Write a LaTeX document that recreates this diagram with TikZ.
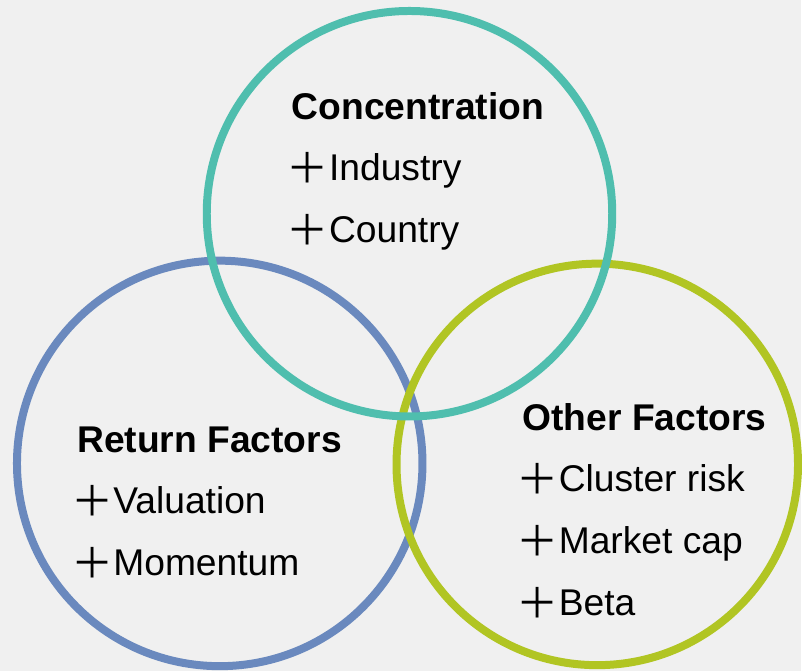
\documentclass[tikz,border=0pt]{standalone}
\usepackage{fontspec}
\setmainfont{Liberation Sans}
\newfontfamily\cjk{Noto Sans CJK SC}
\usepackage{tikz}
\definecolor{fond}{HTML}{F0F0F0}
\definecolor{bleu}{HTML}{6A89BE}
\definecolor{turquoise}{HTML}{4FBEAE}
\definecolor{vert}{HTML}{B1C523}
\newcommand{\puce}{\raisebox{-2pt}{\cjk\fontsize{30}{30}\selectfont ＋}}

\begin{document}
\begin{tikzpicture}[
    rond/.style={circle,minimum size=10.15cm,line width=0.2cm,inner sep=0},
    titre/.style={anchor=base west,inner sep=0,font=\fontsize{26.5}{30}\selectfont\bfseries},
    ligne/.style={anchor=base west,inner sep=0,font=\fontsize{26.5}{30}\selectfont}]
  \fill[fond] (0,0) rectangle (20.05,16.8);

  % blue first, then green, teal on top
  \node[rond,draw=bleu] at (5.5,5.2) (ret) {};
  \node[rond,draw=vert,minimum size=10.05cm] at (14.95,5.175) (oth) {};
  \node[rond,draw=turquoise] at (10.25,11.45) (conc) {};

  \node[titre] at (7.3,13.8) (tconc) {Concentration};
  \node[ligne] at (7.175,12.275) (ind) {\puce Industry};
  \node[ligne] at (7.175,10.725) (cty) {\puce Country};

  \node[titre] at (1.925,5.475) (tret) {Return Factors};
  \node[ligne] at (1.775,3.95) (val) {\puce Valuation};
  \node[ligne] at (1.775,2.4) (mom) {\puce Momentum};

  \node[titre] at (13.075,6.025) (toth) {Other Factors};
  \node[ligne] at (12.925,4.5) (clu) {\puce Cluster risk};
  \node[ligne] at (12.925,2.95) (mkt) {\puce Market cap};
  \node[ligne] at (12.925,1.4) (bet) {\puce Beta};
\end{tikzpicture}
\end{document}
